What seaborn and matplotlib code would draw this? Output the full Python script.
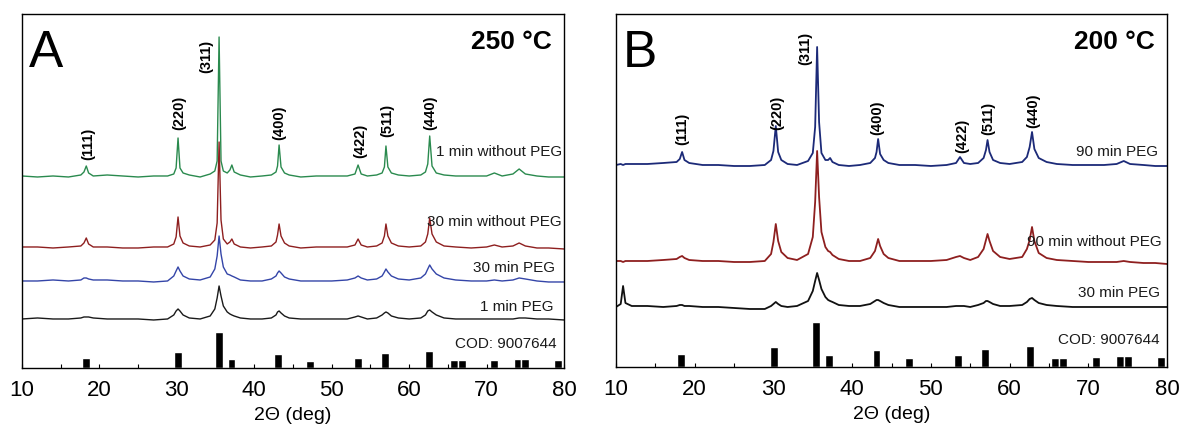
import numpy as np
import pandas as pd
import matplotlib
matplotlib.use("Agg")
import matplotlib.pyplot as plt
import matplotlib.transforms as mtransforms
from matplotlib.ticker import MultipleLocator
import seaborn as sns

# ── data (y = intensity offset, arb. units) ──────────────────────────────
# reference pattern COD 9007644 (relative intensity, 311 = 100)
cod_pos = [18.3, 30.1, 35.45, 37.05, 43.1, 47.2, 53.4, 56.9, 62.55,
           65.8, 66.8, 71.0, 74.0, 75.0, 79.2]
cod_int = [28, 44, 100, 26, 38, 19, 27, 41, 47, 21, 21, 22, 25, 25, 22]

hkl = ["(111)", "(220)", "(311)", "(400)", "(422)", "(511)", "(440)"]

# panel A, 250 °C
two_theta_a = [10, 12, 14, 16, 17.6, 18.0, 18.3, 18.6, 19.2, 21, 23, 25, 27,
               28.8, 29.6, 29.9, 30.15, 30.4, 30.8, 31.6, 33, 34.3, 34.9,
               35.2, 35.45, 35.7, 36.0, 36.5, 36.85, 37.1, 37.4, 38.2, 39.5,
               41, 42.2, 42.8, 43.0, 43.2, 43.45, 43.9, 44.5, 46, 48, 50, 52,
               53.0, 53.4, 53.8, 54.6, 55.8, 56.5, 56.8, 57.0, 57.25, 57.7,
               58.6, 60, 61.5, 62.1, 62.4, 62.65, 62.95, 63.5, 64.5, 66, 68,
               70, 71.0, 72, 73.4, 74.2, 75, 76.5, 78, 80]
a_1min_no_peg = [192, 191, 192, 191, 193, 196, 202, 195, 192, 193, 192, 191, 192,
                 192, 194, 200, 230, 200, 195, 193, 191, 194, 197,
                 207, 331, 207, 197, 195, 198, 203, 196, 193, 191,
                 192, 193, 196, 202, 223, 201, 195, 193, 191, 192, 192, 192,
                 194, 203, 194, 192, 193, 195, 201, 222, 201, 195,
                 193, 192, 193, 196, 204, 232, 202, 195, 193, 192, 192,
                 192, 195, 192, 194, 199, 194, 192, 191, 191]
a_30min_no_peg = [121, 121, 120, 121, 122, 125, 130, 124, 121, 121, 120, 120, 121,
                  121, 124, 131, 151, 132, 125, 122, 121, 123, 128,
                  145, 226, 148, 129, 124, 126, 129, 124, 121, 120,
                  121, 122, 126, 133, 144, 132, 125, 122, 120, 121, 121, 121,
                  123, 129, 123, 121, 122, 125, 132, 144, 132, 125,
                  122, 121, 122, 126, 134, 150, 134, 126, 122, 121, 120,
                  121, 123, 121, 122, 125, 122, 120, 120, 119]
a_30min_peg = [87, 87, 88, 87, 88, 90, 90, 89, 88, 88, 87, 87, 86,
               87, 92, 97, 101, 97, 92, 89, 88, 91, 99,
               112, 132, 114, 101, 94, 93, 92, 91, 88, 87,
               87, 89, 92, 95, 97, 95, 91, 89, 87, 87, 87, 88,
               90, 92, 90, 88, 89, 92, 96, 99, 96, 92,
               89, 88, 90, 94, 99, 103, 99, 94, 90, 88, 87,
               87, 88, 87, 88, 90, 89, 87, 86, 86]
a_1min_peg = [49, 50, 49, 49, 50, 51, 51, 51, 50, 49, 49, 49, 48,
              49, 53, 57, 59, 57, 53, 50, 49, 52, 59,
              70, 82, 72, 62, 56, 54, 53, 52, 50, 49,
              49, 50, 53, 56, 57, 55, 52, 50, 49, 49, 49, 49,
              51, 52, 51, 49, 50, 53, 55, 56, 55, 52,
              50, 49, 50, 53, 57, 58, 56, 53, 50, 49, 49,
              49, 49, 49, 49, 50, 50, 49, 49, 48]

# panel B, 200 °C
two_theta_b = [10, 10.6, 10.9, 11.2, 12, 14, 16, 17.7, 18.1, 18.4, 18.7, 19.3,
               21, 23, 25, 27, 28.9, 29.7, 30.0, 30.3, 30.6, 31.0, 31.8, 33,
               34.4, 35.0, 35.3, 35.55, 35.8, 36.1, 36.6, 36.95, 37.2, 37.5,
               38.3, 39.6, 41, 42.3, 42.9, 43.1, 43.3, 43.55, 44.0, 44.6, 46,
               48, 50, 52, 53.2, 53.7, 54.2, 55, 56.0, 56.7, 57.0, 57.2, 57.45,
               57.9, 58.8, 60, 61.6, 62.2, 62.55, 62.85, 63.15, 63.7, 64.7, 66,
               68, 70, 72, 73.6, 74.5, 75.3, 77, 78.5, 80]
b_90min_peg = [202, 203, 202, 203, 203, 203, 204, 205, 208, 215, 207, 204,
               202, 202, 201, 201, 202, 207, 216, 241, 215, 207, 203, 202,
               206, 214, 240, 320, 245, 214, 207, 207, 209, 205,
               202, 201, 202, 204, 209, 215, 228, 213, 207, 204, 202,
               202, 201, 202, 204, 210, 204, 203, 204, 209, 217, 227, 215,
               207, 204, 203, 205, 210, 220, 235, 218, 209, 205, 203,
               202, 202, 202, 203, 206, 203, 202, 201, 201]
b_90min_no_peg = [106, 106, 105, 106, 106, 106, 107, 108, 110, 111, 109, 107,
                  106, 106, 105, 105, 106, 113, 125, 143, 126, 115, 109, 107,
                  113, 130, 165, 216, 170, 135, 120, 116, 115, 112,
                  108, 106, 106, 109, 116, 122, 128, 121, 113, 109, 106,
                  106, 106, 107, 110, 111, 109, 107, 110, 118, 127, 133, 126,
                  116, 110, 108, 110, 118, 127, 140, 126, 114, 109, 107,
                  106, 105, 105, 105, 106, 105, 104, 104, 103]
b_30min_peg = [60, 63, 81, 64, 61, 61, 60, 61, 62, 62, 61, 61,
               60, 60, 59, 58, 58, 61, 63, 65, 63, 61, 60, 61,
               66, 76, 86, 94, 87, 78, 70, 67, 66, 65,
               62, 61, 61, 63, 66, 67, 67, 66, 64, 62, 60,
               60, 60, 60, 61, 61, 61, 60, 62, 64, 66, 66, 65,
               63, 61, 61, 62, 65, 68, 69, 67, 64, 62, 61,
               60, 60, 60, 60, 60, 60, 60, 60, 60]

# ── styling ──────────────────────────────────────────────────────────────
sns.set_style("white")
plt.rcParams["font.family"] = ["Liberation Sans", "DejaVu Sans"]
plt.rcParams["text.color"] = "black"
plt.rcParams["axes.labelcolor"] = "black"
plt.rcParams["xtick.color"] = "black"

fig = plt.figure(figsize=(11.83, 4.31), dpi=100)
ax_a = fig.add_axes([0.0186, 0.1439, 0.4582, 0.8213])
ax_b = fig.add_axes([0.5207, 0.1462, 0.4658, 0.8190])

panels = [
    dict(ax=ax_a, x=two_theta_a, letter="A", temp="250 \u00b0C", stick=36,
         ylim=354, lw=1.0,
         curves=[(a_1min_no_peg, "#2a8a4e", "1 min without PEG", 217, 0.996),
                 (a_30min_no_peg, "#8e1f1f", "30 min without PEG", 147, 0.996),
                 (a_30min_peg, "#3445a8", "30 min PEG", 101, 0.983),
                 (a_1min_peg, "#1a1a1a", "1 min PEG", 62, 0.980)],
         cod_y=25, cod_x=0.987,
         hkl_x=[18.5, 30.3, 33.8, 43.2, 53.7, 57.2, 62.7],
         hkl_y=[209, 239, 296, 229, 211, 232, 239]),
    dict(ax=ax_b, x=two_theta_b, letter="B", temp="200 \u00b0C", stick=45,
         ylim=353, lw=1.3,
         curves=[(b_90min_peg, "#1c2a78", "90 min PEG", 216, 0.984),
                 (b_90min_no_peg, "#8e1f1f", "90 min without PEG", 126, 0.991),
                 (b_30min_peg, "#111111", "30 min PEG", 75, 0.987)],
         cod_y=28, cod_x=0.987,
         hkl_x=[18.4, 30.5, 34.1, 43.2, 54.0, 57.3, 63.0],
         hkl_y=[223, 238, 303, 233, 215, 233, 240]),
]

for p in panels:
    ax = p["ax"]
    trans = mtransforms.blended_transform_factory(ax.transAxes, ax.transData)
    # measured patterns
    for vals, color, label, ly, lx in p["curves"]:
        df = pd.DataFrame({"two_theta": p["x"], "intensity": vals})
        sns.lineplot(data=df, x="two_theta", y="intensity", ax=ax,
                     color=color, lw=p["lw"], sort=False, estimator=None)
        ax.text(lx, ly, label, transform=trans, ha="right", va="center",
                fontsize=11, color="#1a1a1a")

    # reference sticks
    heights = np.array(cod_int) / 100 * p["stick"]
    ax.bar(cod_pos, heights, width=1.0, color="black", bottom=0)
    ax.text(p["cod_x"], p["cod_y"], "COD: 9007644", transform=trans,
            ha="right", va="center", fontsize=11, color="#1a1a1a")

    # Miller indices
    for name, hx, hy in zip(hkl, p["hkl_x"], p["hkl_y"]):
        ax.text(hx, hy, name, rotation=90, ha="center", va="bottom",
                fontsize=10.5, fontweight="bold")

    ax.text(0.012, 0.853, p["letter"], transform=ax.transAxes, fontsize=37,
            ha="left", va="baseline")
    ax.text(0.978, 0.958, p["temp"], transform=ax.transAxes, fontsize=19,
            fontweight="bold", ha="right", va="top")

    ax.set_xlim(10, 80)
    ax.set_ylim(0, p["ylim"])
    ax.xaxis.set_major_locator(MultipleLocator(10))
    ax.xaxis.set_minor_locator(MultipleLocator(5))
    ax.tick_params(axis="x", which="both", direction="in", length=3,
                   width=0.8, labelsize=16, pad=8, bottom=True)
    ax.set_yticks([])
    ax.set_ylabel("")
    ax.set_xlabel("2\u0398 (deg)", fontsize=14, labelpad=4)
    for s in ax.spines.values():
        s.set_color("black")
        s.set_linewidth(1.0)

fig.savefig("out.png", dpi=100)
